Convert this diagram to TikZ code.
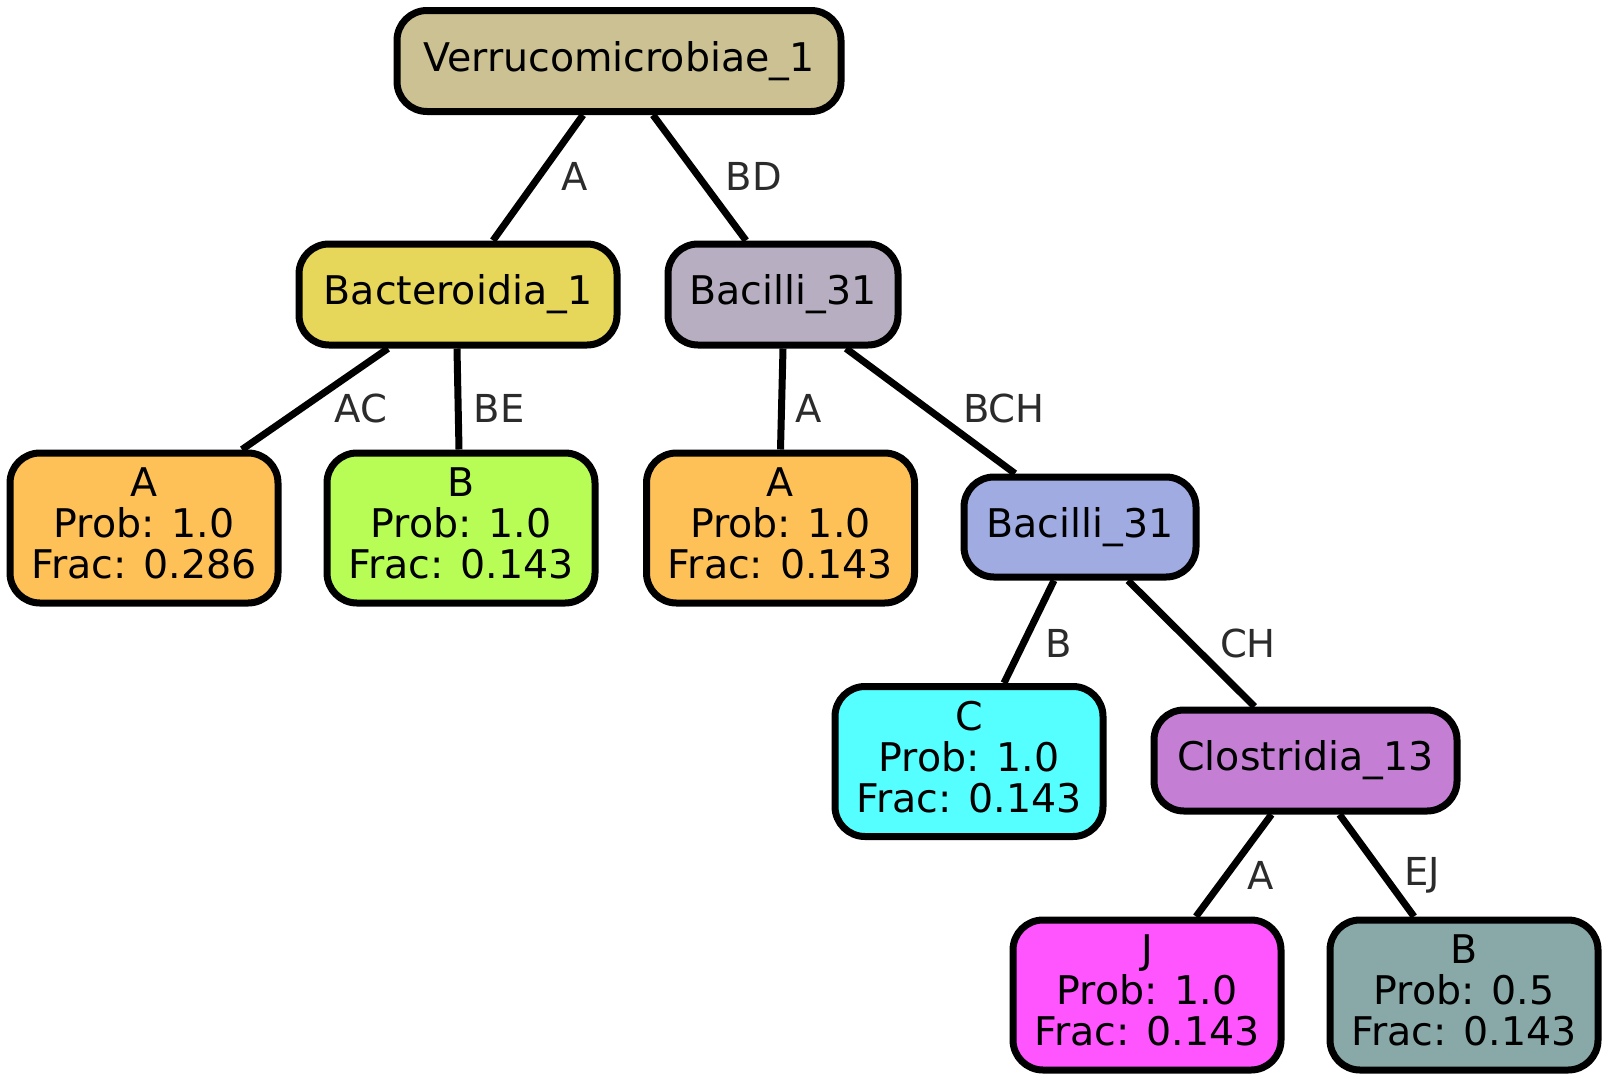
\documentclass[tikz,border=0pt]{standalone}
\usepackage{fontspec}
\setmainfont{DejaVu Sans}
\usetikzlibrary{calc}
\definecolor{cRoot}{HTML}{CBC193}
\definecolor{cBact}{HTML}{E6D65A}
\definecolor{cBacA}{HTML}{B7AFC1}
\definecolor{cOrange}{HTML}{FEC158}
\definecolor{cGreen}{HTML}{B8FD55}
\definecolor{cBacB}{HTML}{9FABE1}
\definecolor{cCyan}{HTML}{55FFFF}
\definecolor{cClos}{HTML}{C47FD5}
\definecolor{cMag}{HTML}{FF55FF}
\definecolor{cGrey}{HTML}{89A9A9}
\definecolor{cLab}{HTML}{2B2B2B}
\tikzset{
  box/.style={draw=black, line width=7pt, rounded corners=30pt, inner sep=0pt,
    align=center, font=\fontsize{39.5}{41}\selectfont, minimum height=101pt},
  leaf/.style={box, minimum width=268pt, minimum height=150pt,
    execute at end node={\rule[-9pt]{0pt}{9pt}}},
  edge/.style={line width=7pt, draw=black},
  elab/.style={text=cLab, font=\fontsize{38.5}{41}\selectfont, inner sep=0pt}
}
\begin{document}
\begin{tikzpicture}[x=1pt,y=-1pt]
\useasboundingbox (0,0) rectangle (1608,1079);
% internal nodes
\node[box, fill=cRoot, minimum width=444pt] (root) at (619,61) {Verrucomicrobiae\_1};
\node[box, fill=cBact, minimum width=318pt] (bact) at (458,294.5) {Bacteroidia\_1};
\node[box, fill=cBacA, minimum width=230pt] (baca) at (783,294.5) {Bacilli\_31};
\node[box, fill=cBacB, minimum width=232pt, minimum height=100pt] (bacb) at (1080,527) {Bacilli\_31};
\node[box, fill=cClos, minimum width=303pt] (clos) at (1305.5,760.5) {Clostridia\_13};
% leaves
\node[leaf, fill=cOrange] (la1) at (144,528) {A\\Prob: 1.0\\Frac: 0.286};
\node[leaf, fill=cGreen] (lb1) at (461,528) {B\\Prob: 1.0\\Frac: 0.143};
\node[leaf, fill=cOrange] (la2) at (780.5,528) {A\\Prob: 1.0\\Frac: 0.143};
\node[leaf, fill=cCyan] (lc) at (969,761.5) {C\\Prob: 1.0\\Frac: 0.143};
\node[leaf, fill=cMag] (lj) at (1147,995) {J\\Prob: 1.0\\Frac: 0.143};
\node[leaf, fill=cGrey] (lb2) at (1464,995) {B\\Prob: 0.5\\Frac: 0.143};
% edges
\draw[edge] ([xshift=-36pt]root.south) -- ([xshift=35pt]bact.north);
\draw[edge] ([xshift=34pt]root.south) -- ([xshift=-37pt]baca.north);
\draw[edge] ([xshift=-70pt]bact.south) -- ([xshift=98pt]la1.north);
\draw[edge] ([xshift=-1pt]bact.south) -- ([xshift=-2pt]lb1.north);
\draw[edge] (baca.south) -- (la2.north);
\draw[edge] ([xshift=63pt]baca.south) -- ([xshift=-65pt]bacb.north);
\draw[edge] ([xshift=-26pt]bacb.south) -- ([xshift=35pt]lc.north);
\draw[edge] ([xshift=48pt]bacb.south) -- ([xshift=-51pt]clos.north);
\draw[edge] ([xshift=-34pt]clos.south) -- ([xshift=49pt]lj.north);
\draw[edge] ([xshift=34pt]clos.south) -- ([xshift=-50pt]lb2.north);
% edge labels
\node[elab] (e1) at (575,176) {A};
\node[elab] (e2) at (754,176) {BD};
\node[elab] (e3) at (361,408) {AC};
\node[elab] (e4) at (499,408) {BE};
\node[elab] (e5) at (809,408) {A};
\node[elab] (e6) at (1004,408) {BCH};
\node[elab] (e7) at (1059,643) {B};
\node[elab] (e8) at (1248,643) {CH};
\node[elab] (e9) at (1261,875) {A};
\node[elab] (e10) at (1422,875) {EJ};
\end{tikzpicture}
\end{document}
